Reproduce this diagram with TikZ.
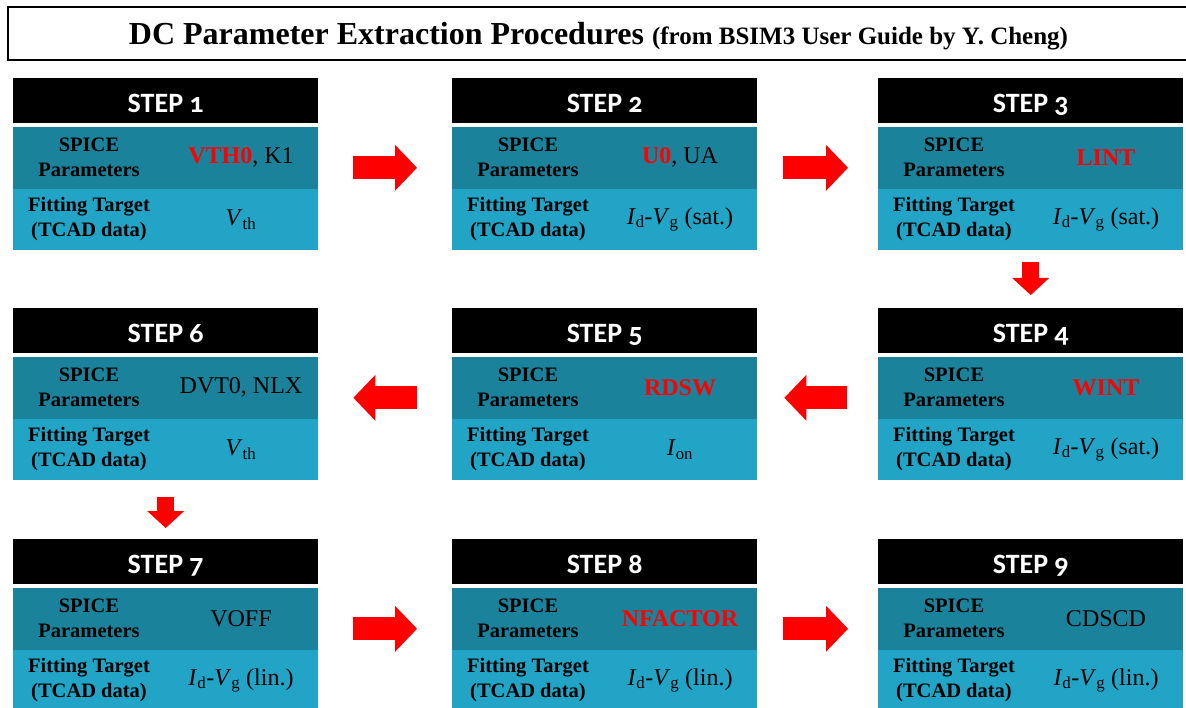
\documentclass[tikz,border=0pt]{standalone}
\usepackage{fontspec}
\setmainfont{Liberation Serif}
\newfontfamily\headfont[Numbers=OldStyle]{Carlito}
\usetikzlibrary{positioning, arrows.meta}
\definecolor{pardark}{RGB}{26,131,155}
\definecolor{tgtlight}{RGB}{33,164,197}
\definecolor{keyred}{RGB}{255,0,0}

% one step of the procedure: name, left x, top y, number, parameters, target
\newcommand{\procstep}[6]{%
  \node [stephead, anchor=north west] (#1) at (#2,#3) {STEP #4};
  \node [parrow, below=3pt of #1.south west, anchor=north west] (#1par) {};
  \node [tgtrow, below=0pt of #1par.south west, anchor=north west] (#1tgt) {};
  \node [rowlabel] (#1parlabel) at ([xshift=76pt]#1par.west) {SPICE\\Parameters};
  \node [rowvalue] (#1parvalue) at ([xshift=228pt]#1par.west) {#5};
  \node [rowlabel] (#1tgtlabel) at ([xshift=76pt]#1tgt.west) {Fitting Target\\(TCAD data)};
  \node [rowvalue] (#1tgtvalue) at ([xshift=228pt]#1tgt.west) {#6};
}
\newcommand{\keypar}[1]{\textcolor{keyred}{\bfseries #1}}
\newcommand{\IdVg}[1]{\textit{I}\textsubscript{d}-\textit{V}\textsubscript{g} (#1)}

\begin{document}
\begin{tikzpicture}[x=1pt, y=-1pt, >=Stealth,
    titlebox/.style={draw, line width=2.5pt, minimum width=1181pt, minimum height=53pt, inner sep=0pt, text height=25pt, text depth=2pt, font=\bfseries},
    stephead/.style={fill=black, text=white, minimum width=305pt, minimum height=45pt, inner sep=0pt, text height=26pt, text depth=3pt, font={\headfont\bfseries\fontsize{28}{32}\selectfont}},
    parrow/.style={fill=pardark, minimum width=305pt, minimum height=62pt, inner sep=0pt},
    tgtrow/.style={fill=tgtlight, minimum width=305pt, minimum height=61pt, inner sep=0pt},
    rowlabel/.style={align=center, inner sep=0pt, font={\bfseries\fontsize{20.5}{25}\selectfont}},
    rowvalue/.style={align=center, inner sep=0pt, font={\fontsize{24}{28}\selectfont}},
    flowarrow/.style={keyred, line width=23pt, -{Triangle[length=22pt, width=46pt, line width=0pt]}},
    downarrow/.style={keyred, line width=17pt, -{Triangle[length=17pt, width=37pt, line width=0pt]}}]
    \useasboundingbox (0,0) rectangle (1186,708);

    \node [titlebox] (title) at (598.5,33.5) {{\fontsize{32}{36}\selectfont DC Parameter Extraction Procedures~}{\fontsize{25}{30}\selectfont (from BSIM3 User Guide by Y. Cheng)}};

    \procstep{s1}{13}{78}{1}{\keypar{VTH0}, K1}{\textit{V}\textsubscript{th}}
    \procstep{s2}{452}{78}{2}{\keypar{U0}, UA}{\IdVg{sat.}}
    \procstep{s3}{878}{78}{3}{\keypar{LINT}}{\IdVg{sat.}}
    \procstep{s4}{878}{308}{4}{\keypar{WINT}}{\IdVg{sat.}}
    \procstep{s5}{452}{308}{5}{\keypar{RDSW}}{\textit{I}\textsubscript{on}}
    \procstep{s6}{13}{308}{6}{DVT0, NLX}{\textit{V}\textsubscript{th}}
    \procstep{s7}{13}{539}{7}{VOFF}{\IdVg{lin.}}
    \procstep{s8}{452}{539}{8}{\keypar{NFACTOR}}{\IdVg{lin.}}
    \procstep{s9}{878}{539}{9}{CDSCD}{\IdVg{lin.}}

    % flow between the steps
    \draw [flowarrow, shorten <=35pt, shorten >=35pt] ([yshift=21pt]s1par.south east) -- ([yshift=21pt]s2par.south west);
    \draw [flowarrow, shorten <=26pt, shorten >=30pt] ([yshift=21pt]s2par.south east) -- ([yshift=21pt]s3par.south west);
    \draw [downarrow, shorten <=12pt, shorten >=13pt] (s3tgt.south) -- (s4.north);
    \draw [flowarrow, shorten <=31pt, shorten >=27pt] ([yshift=21pt]s4par.south west) -- ([yshift=21pt]s5par.south east);
    \draw [flowarrow, shorten <=35pt, shorten >=35pt] ([yshift=21pt]s5par.south west) -- ([yshift=21pt]s6par.south east);
    \draw [downarrow, shorten <=17pt, shorten >=11pt] (s6tgt.south) -- (s7.north);
    \draw [flowarrow, shorten <=35pt, shorten >=35pt] ([yshift=21pt]s7par.south east) -- ([yshift=21pt]s8par.south west);
    \draw [flowarrow, shorten <=26pt, shorten >=30pt] ([yshift=21pt]s8par.south east) -- ([yshift=21pt]s9par.south west);
\end{tikzpicture}
\end{document}
